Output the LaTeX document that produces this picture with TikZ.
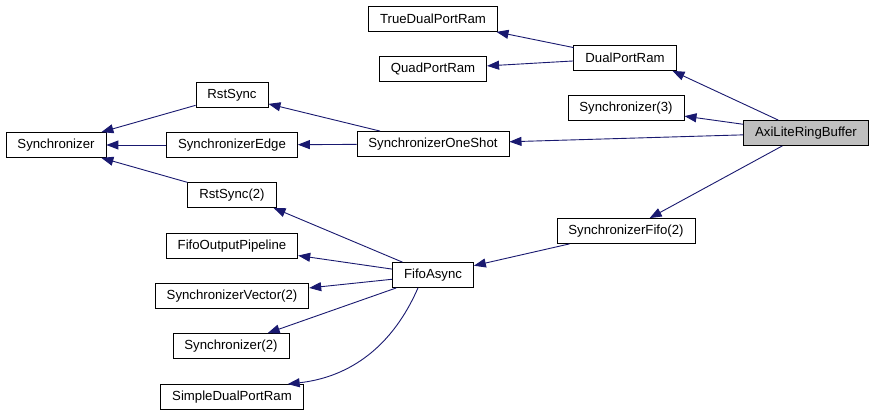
\documentclass[tikz,border=0pt]{standalone}
\usepackage{fontspec}
\setmainfont{Liberation Sans}
\usepackage{xcolor}
\usepackage{tikz}
\usetikzlibrary{arrows.meta}
\definecolor{midblue}{HTML}{191970}

\begin{document}
\begin{tikzpicture}[
    x=1pt, y=-1pt,
    cls/.style={rectangle, draw=black, fill=white, line width=0.8pt, minimum height=25pt, inner xsep=11.5pt, inner ysep=0pt, font=\fontsize{13.2}{15}\selectfont},
    focus/.style={cls, fill=black!25},
    dep/.style={draw=midblue, line width=0.9pt, -{Triangle[length=12pt,width=9pt]}}
]
\useasboundingbox[fill=white] (0,0) rectangle (875,417);

\node[cls] (tdpr) at (433,19) {TrueDualPortRam};
\node[cls] (qpr) at (433,69) {QuadPortRam};
\node[cls] (dpr) at (625,58) {DualPortRam};
\node[cls] (sync3) at (626,108) {Synchronizer(3)};
\node[focus] (axi) at (806,133) {AxiLiteRingBuffer};
\node[cls] (oneshot) at (433,144) {SynchronizerOneShot};
\node[cls] (syncfifo) at (626,231) {SynchronizerFifo(2)};
\node[cls] (fifo) at (433,275) {FifoAsync};

\node[cls] (sync) at (56,145) {Synchronizer};
\node[cls] (rst) at (232,95) {RstSync};
\node[cls] (edge) at (232,145) {SynchronizerEdge};
\node[cls] (rst2) at (232,195) {RstSync(2)};
\node[cls] (fop) at (232,246) {FifoOutputPipeline};
\node[cls] (sv2) at (232,296) {SynchronizerVector(2)};
\node[cls] (s2) at (231,346) {Synchronizer(2)};
\node[cls] (sdpr) at (232,397) {SimpleDualPortRam};

\draw[dep] (dpr) -- (tdpr);
\draw[dep] (dpr) -- (qpr);
\draw[dep] (axi) -- ([xshift=-4pt]dpr.south east);
\draw[dep] (axi) -- (sync3);
\draw[dep] (axi) -- (oneshot);
\draw[dep] (axi) -- (syncfifo);
\draw[dep] (oneshot) -- (rst);
\draw[dep] (oneshot) -- (edge);
\draw[dep] (rst) -- (sync);
\draw[dep] (edge) -- (sync);
\draw[dep] (rst2) -- (sync);
\draw[dep] (syncfifo) -- (fifo);
\draw[dep] (fifo) -- ([xshift=-3pt]rst2.south east);
\draw[dep] (fifo) -- (fop);
\draw[dep] (fifo) -- (sv2);
\draw[dep] (fifo) -- (s2);
\draw[dep] ([xshift=-15pt]fifo.south) to[bend left=30] ([xshift=-16pt]sdpr.north east);
\end{tikzpicture}
\end{document}
